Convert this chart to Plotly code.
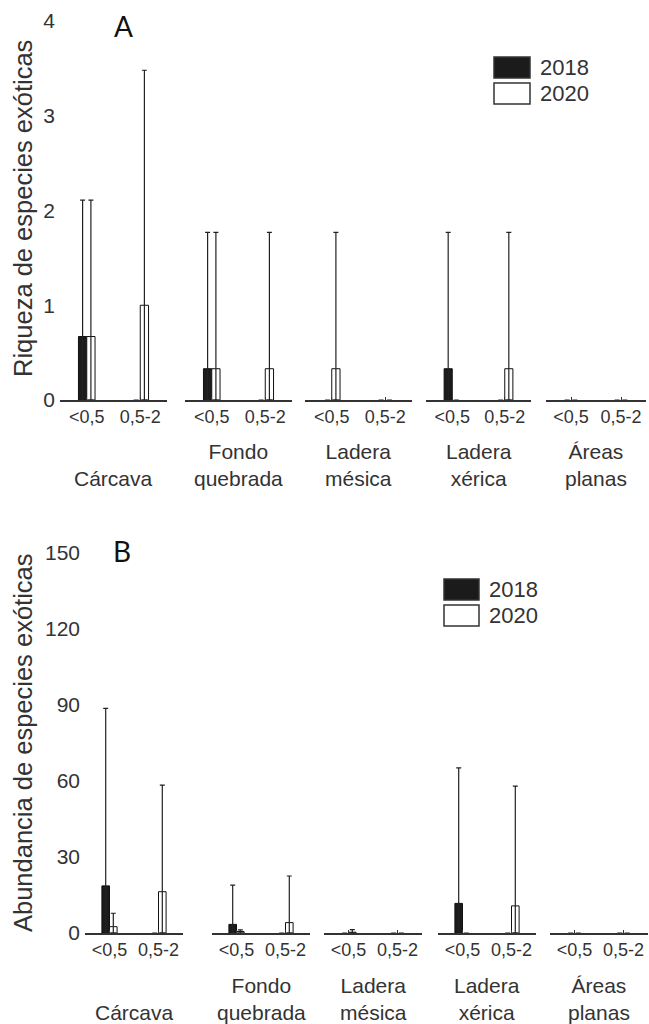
import plotly.graph_objects as go

# ---------------- data ----------------
sizes = ["<0,5", "0,5-2"]
habitats = ["Cárcava", "Fondo<br>quebrada", "Ladera<br>mésica", "Ladera<br>xérica", "Áreas<br>planas"]
years = ["2018", "2020"]

# Panel A - riqueza de especies exóticas (media y desviación hacia arriba), por hábitat x tamaño
rich_2018_mean = [[0.67, 0], [0.33, 0], [0, 0], [0.33, 0], [0, 0]]
rich_2018_sd = [[1.44, 0], [1.44, 0], [0, 0], [1.44, 0], [0, 0]]
rich_2020_mean = [[0.67, 1.0], [0.33, 0.33], [0.33, 0], [0, 0.33], [0, 0]]
rich_2020_sd = [[1.44, 2.48], [1.44, 1.44], [1.44, 0], [0, 1.44], [0, 0]]

# Panel B - abundancia de especies exóticas
abun_2018_mean = [[18.6, 0], [3.4, 0], [0, 0], [11.7, 0], [0, 0]]
abun_2018_sd = [[70.1, 0], [15.5, 0], [0, 0], [53.5, 0], [0, 0]]
abun_2020_mean = [[2.5, 16.3], [0.6, 4.1], [0.3, 0], [0, 10.7], [0, 0]]
abun_2020_sd = [[5.3, 42.1], [0.6, 18.4], [1.0, 0], [0, 47.3], [0, 0]]

rich_ticks = [0, 1, 2, 3, 4]
abun_ticks = [0, 30, 60, 90, 120, 150]

# ---------------- layout helpers ----------------
W, H = 649, 1024


def fx(px):
    return px / W


def fy(py):
    return 1 - py / H


FONT = "Liberation Sans, Arial, sans-serif"
TXT = "#333333"
AXC = "#333333"

panels = [
    dict(letter="A", letter_pos=(123, 26), ytitle="Riqueza de especies exóticas",
         means=(rich_2018_mean, rich_2020_mean), sds=(rich_2018_sd, rich_2020_sd),
         yrange=[0, 4], ticks=rich_ticks, ypx=(400, 21),
         xpx=[(60, 167), (185, 292), (305, 412), (426, 531), (546, 646)],
         legend_box=(494, 530, 57, 78, 83, 104), legend_text_x=538,
         title_y=209, label_last=478),
    dict(letter="B", letter_pos=(122, 551), ytitle="Abundancia de especies exóticas",
         means=(abun_2018_mean, abun_2020_mean), sds=(abun_2018_sd, abun_2020_sd),
         yrange=[0, 150], ticks=abun_ticks, ypx=(933, 553),
         xpx=[(85, 183), (212, 310), (324, 422), (438, 536), (550, 648)],
         legend_box=(444, 479, 579, 600, 605, 626), legend_text_x=487,
         title_y=743, label_last=1012),
]

fill = {"2018": "#1b1b1b", "2020": "#ffffff"}

fig = go.Figure()
layout = dict(
    template="none",
    width=W, height=H, margin=dict(l=0, r=0, t=0, b=0, pad=0, autoexpand=False),
    paper_bgcolor="white", plot_bgcolor="white",
    barmode="group", bargap=0.69, bargroupgap=0,
    showlegend=False, font=dict(family=FONT, color=TXT),
)
annotations = []
shapes = []

for p, pan in enumerate(panels):
    yname = "y" if p == 0 else "y2"
    ykey = "yaxis" if p == 0 else "yaxis2"
    first_x = None
    for g, hab in enumerate(habitats):
        k = p * 5 + g + 1
        xname = "x" if k == 1 else f"x{k}"
        xkey = "xaxis" if k == 1 else f"xaxis{k}"
        if first_x is None:
            first_x = xname
        for yi, yr in enumerate(years):
            m = pan["means"][yi][g]
            s = pan["sds"][yi][g]
            fig.add_trace(go.Bar(
                x=sizes, y=m, name=yr, xaxis=xname, yaxis=yname,
                offsetgroup=yr,
                marker=dict(color=fill[yr],
                            line=dict(color="#111111",
                                      width=[1 if v > 0 else 0 for v in m])),
                error_y=dict(type="data", symmetric=False, array=s, arrayminus=m,
                             color="#222222", thickness=1.2, width=2.5),
                showlegend=False, hoverinfo="skip",
            ))
        x0, x1 = pan["xpx"][g]
        layout[xkey] = dict(
            domain=[fx(x0), fx(x1)], anchor=yname, type="category",
            categoryorder="array", categoryarray=sizes, range=[-0.5, 1.5],
            showline=True, linecolor=AXC, linewidth=1.5, automargin=False,
            ticks="inside", ticklen=3, tickcolor=AXC, tickwidth=1,
            showgrid=False, zeroline=False, fixedrange=True,
            tickfont=dict(size=18, color=TXT, family=FONT),
        )
        # habitat label under each group
        nlines = hab.count("<br>") + 1
        center = pan["label_last"] - (nlines - 1) * 27 / 2
        annotations.append(dict(
            text=hab, xref=f"{xname} domain", x=0.5, yref="paper", y=fy(center),
            xanchor="center", yanchor="middle", showarrow=False,
            font=dict(size=21, color=TXT, family=FONT),
        ))
    ybot, ytop = pan["ypx"]
    layout[ykey] = dict(
        domain=[fy(ybot), fy(ytop)], anchor=first_x, range=pan["yrange"],
        tickvals=pan["ticks"], ticktext=[str(t) for t in pan["ticks"]],
        showline=False, ticks="", showgrid=False, zeroline=False, fixedrange=True,
        automargin=False, ticklabelstandoff=4,
        tickfont=dict(size=21, color=TXT, family=FONT),
    )
    # y axis title
    annotations.append(dict(
        text=pan["ytitle"], textangle=-90, xref="paper", yref="paper",
        x=fx(23), y=fy(pan["title_y"]), xanchor="center", yanchor="middle",
        showarrow=False, font=dict(size=25.5, color=TXT, family=FONT),
    ))
    # panel letter
    annotations.append(dict(
        text=pan["letter"], xref="paper", yref="paper",
        x=fx(pan["letter_pos"][0]), y=fy(pan["letter_pos"][1]),
        xanchor="center", yanchor="middle", showarrow=False,
        font=dict(size=28, color="#111111", family="Lato, Open Sans, sans-serif"),
    ))
    # legend
    bx0, bx1, by0, by1, by2, by3 = pan["legend_box"]
    for yr, (t, b) in zip(years, [(by0, by1), (by2, by3)]):
        shapes.append(dict(
            type="rect", xref="paper", yref="paper",
            x0=fx(bx0), x1=fx(bx1), y0=fy(b), y1=fy(t),
            fillcolor=fill[yr], line=dict(color="#333333", width=1.5),
        ))
        annotations.append(dict(
            text=yr, xref="paper", yref="paper",
            x=fx(pan["legend_text_x"]), y=fy((t + b) / 2),
            xanchor="left", yanchor="middle", showarrow=False,
            font=dict(size=22, color=TXT, family=FONT),
        ))

layout["annotations"] = annotations
layout["shapes"] = shapes
fig.update_layout(**layout)

fig.write_html("out.html")
